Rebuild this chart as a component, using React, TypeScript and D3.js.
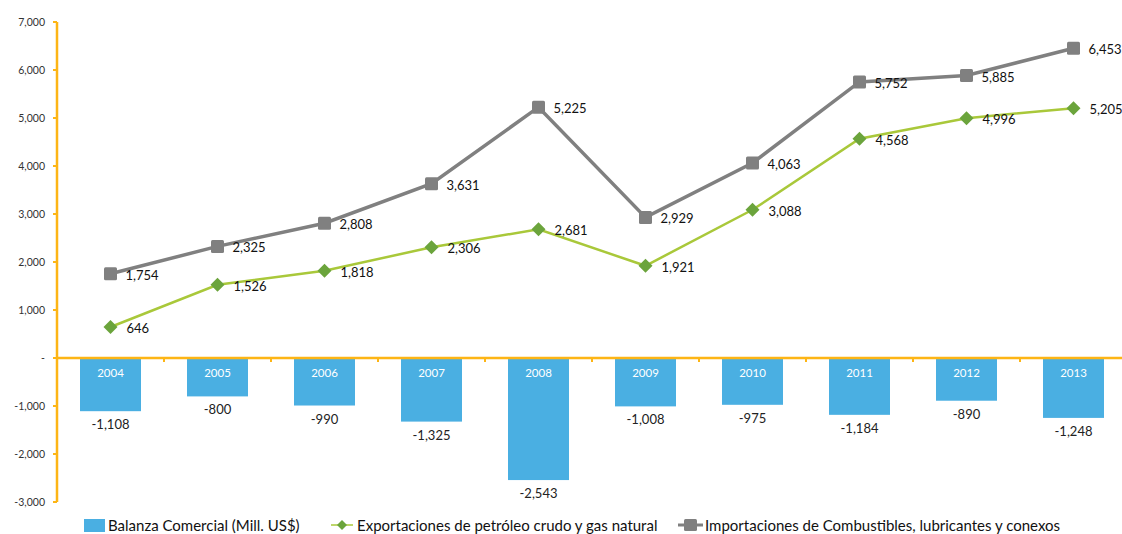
import React from "react";
import * as d3 from "d3";

const years = ["2004", "2005", "2006", "2007", "2008", "2009", "2010", "2011", "2012", "2013"];
const balanza = [-1108, -800, -990, -1325, -2543, -1008, -975, -1184, -890, -1248];
const exportaciones = [646, 1526, 1818, 2306, 2681, 1921, 3088, 4568, 4996, 5205];
const importaciones = [1754, 2325, 2808, 3631, 5225, 2929, 4063, 5752, 5885, 6453];
const yTicks = [-3000, -2000, -1000, 0, 1000, 2000, 3000, 4000, 5000, 6000, 7000];
const legendLabels = [
  "Balanza Comercial (Mill. US$)",
  "Exportaciones de petróleo crudo y gas natural",
  "Importaciones de Combustibles, lubricantes y conexos",
];

const W = 1122;
const H = 534;
const axisColor = "#FDB515";
const barColor = "#4AAFE2";
const greenLine = "#A9C83A";
const greenMarker = "#6BA43C";
const grayColor = "#808080";
const font = "Lato, 'Open Sans', sans-serif";
const f0 = d3.format(",");
const fmt = (v: number) => f0(v).replace("\u2212", "-");

export default function App() {
  const x = d3.scaleBand<string>().domain(years).range([57, 1127]).paddingInner(0.43).paddingOuter(0.215);
  const xb = d3.scaleBand<string>().domain(years).range([57, 1127]);
  const y = d3.scaleLinear().domain([-3000, 7000]).range([502, 22]);
  const cx = (i: number) => (xb(years[i]) as number) + xb.bandwidth() / 2;
  const lineGen = d3
    .line<number>()
    .x((_, i) => cx(i))
    .y((d) => y(d));

  return (
    <svg width={W} height={H} style={{ position: "absolute", left: 0, top: 0, background: "#fff" }}>
      {/* bars */}
      {balanza.map((v, i) => (
        <g key={"b" + i}>
          <rect x={x(years[i])} y={y(0)} width={x.bandwidth()} height={y(v) - y(0)} fill={barColor} />
          <text x={cx(i)} y={y(0) + 19} textAnchor="middle" fill="#fff" fontSize={11.5} fontFamily={font}>
            {years[i]}
          </text>
          <text x={cx(i)} y={y(v) + 18} textAnchor="middle" fill="#222" fontSize={13} fontFamily={font}>
            {fmt(v)}
          </text>
        </g>
      ))}

      {/* axes */}
      <line x1={57} x2={57} y1={y(7000)} y2={y(-3000)} stroke={axisColor} strokeWidth={2.5} />
      <line x1={57} x2={1122} y1={y(0)} y2={y(0)} stroke={axisColor} strokeWidth={2.5} />
      {yTicks.map((t) => (
        <g key={"t" + t}>
          <line x1={53} x2={57} y1={y(t)} y2={y(t)} stroke={axisColor} strokeWidth={2} />
          <text x={45} y={y(t) + 4} textAnchor="end" fill="#333" fontSize={10.5} fontFamily={font}>
            {t === 0 ? "-" : fmt(t)}
          </text>
        </g>
      ))}
      {years.slice(1).map((yr) => (
        <line key={"xt" + yr} x1={xb(yr)} x2={xb(yr)} y1={y(0)} y2={y(0) + 4} stroke={axisColor} strokeWidth={2} />
      ))}

      {/* import line */}
      <path d={lineGen(importaciones) || ""} fill="none" stroke={grayColor} strokeWidth={3.5} />
      {importaciones.map((v, i) => (
        <g key={"i" + i}>
          <rect x={cx(i) - 6.5} y={y(v) - 6.5} width={13} height={13} rx={1.5} fill={grayColor} />
          <text x={cx(i) + 15} y={y(v) + 6} fill="#111" fontSize={13} fontFamily={font}>
            {fmt(v)}
          </text>
        </g>
      ))}

      {/* export line */}
      <path d={lineGen(exportaciones) || ""} fill="none" stroke={greenLine} strokeWidth={2.5} />
      {exportaciones.map((v, i) => (
        <g key={"e" + i}>
          <path
            d={`M${cx(i)},${y(v) - 7} L${cx(i) + 7},${y(v)} L${cx(i)},${y(v) + 7} L${cx(i) - 7},${y(v)} Z`}
            fill={greenMarker}
          />
          <text x={cx(i) + 16} y={y(v) + 6} fill="#111" fontSize={13} fontFamily={font}>
            {fmt(v)}
          </text>
        </g>
      ))}

      {/* legend */}
      <g fontFamily={font} fontSize={15} fill="#111">
        <rect x={84} y={519} width={21} height={13} fill={barColor} />
        <text x={108} y={531}>{legendLabels[0]}</text>
        <line x1={331} x2={353} y1={525} y2={525} stroke={greenLine} strokeWidth={1.5} />
        <path d="M342,520 L347,525 L342,530 L337,525 Z" fill={greenMarker} />
        <text x={357} y={531}>{legendLabels[1]}</text>
        <line x1={678} x2={703} y1={525} y2={525} stroke={grayColor} strokeWidth={3} />
        <rect x={684} y={519} width={13} height={12} rx={1.5} fill={grayColor} />
        <text x={705} y={531}>{legendLabels[2]}</text>
      </g>
    </svg>
  );
}
